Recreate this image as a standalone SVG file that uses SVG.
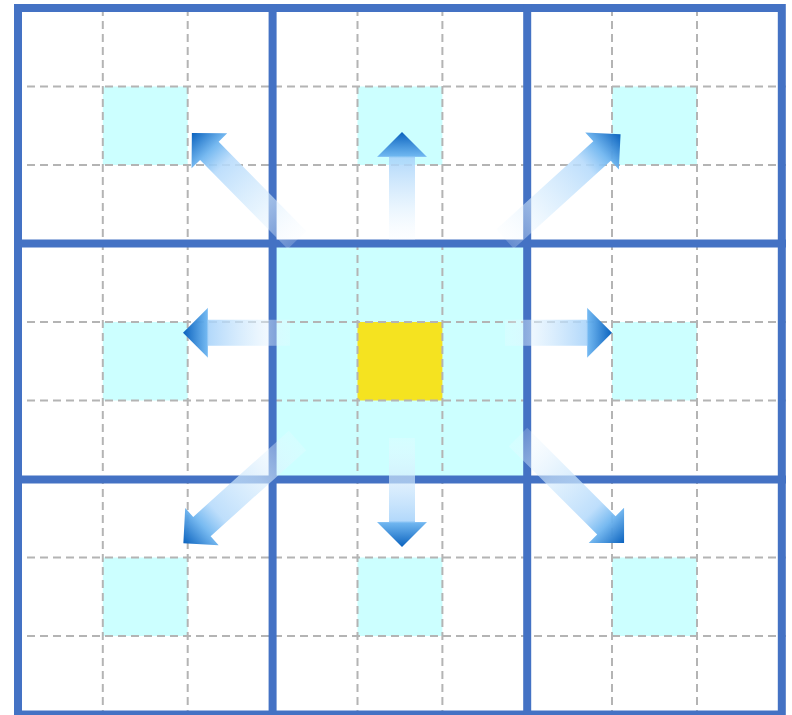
<svg xmlns="http://www.w3.org/2000/svg" width="792" height="715" viewBox="0 0 792 715">
  <style>
    .cell { fill: #CCFFFF; }
    .center { fill: #F5E320; }
    .dash { stroke: #B4B4B4; stroke-width: 2; stroke-dasharray: 8 5; fill: none; }
    .thick { stroke: #4472C4; stroke-width: 8; fill: none; }
    .arrS { fill: url(#gS); }
    .arrL { fill: url(#gL); }
  </style>
  <defs>
    <linearGradient id="gS" x1="0" y1="0" x2="1" y2="0">
      <stop offset="0" stop-color="#f4faff" stop-opacity="0.2"/>
      <stop offset="0.35" stop-color="#d6ecfd" stop-opacity="0.65"/>
      <stop offset="0.76" stop-color="#a8d3fa" stop-opacity="0.88"/>
      <stop offset="0.78" stop-color="#68b2ef" stop-opacity="0.95"/>
      <stop offset="1" stop-color="#0a62be" stop-opacity="1"/>
    </linearGradient>
    <linearGradient id="gL" x1="0" y1="0" x2="1" y2="0">
      <stop offset="0" stop-color="#f4faff" stop-opacity="0.2"/>
      <stop offset="0.35" stop-color="#d6ecfd" stop-opacity="0.65"/>
      <stop offset="0.7" stop-color="#b5dafb" stop-opacity="0.88"/>
      <stop offset="0.83" stop-color="#70b6f0" stop-opacity="0.95"/>
      <stop offset="1" stop-color="#0a62be" stop-opacity="1"/>
    </linearGradient>
  </defs>

  <rect x="0" y="0" width="792" height="715" fill="#ffffff"/>

  <g id="cells">
    <g id="n-top-left"><rect class="cell" x="102.8" y="86.5" width="84.9" height="78.5"/></g>
    <g id="n-top"><rect class="cell" x="357.5" y="86.5" width="84.9" height="78.5"/></g>
    <g id="n-top-right"><rect class="cell" x="612" y="86.5" width="84.9" height="78.5"/></g>
    <g id="n-left"><rect class="cell" x="102.8" y="322" width="84.9" height="78.5"/></g>
    <g id="n-right"><rect class="cell" x="612" y="322" width="84.9" height="78.5"/></g>
    <g id="n-bottom-left"><rect class="cell" x="102.8" y="557.5" width="84.9" height="78.5"/></g>
    <g id="n-bottom"><rect class="cell" x="357.5" y="557.5" width="84.9" height="78.5"/></g>
    <g id="n-bottom-right"><rect class="cell" x="612" y="557.5" width="84.9" height="78.5"/></g>
    <g id="n-block"><rect class="cell" x="272.6" y="243.5" width="254.6" height="235.5"/></g>
    <g id="n-center"><rect class="center" x="357.5" y="322" width="84.9" height="78.5"/></g>
  </g>

  <g id="dashed-grid">
    <line class="dash" x1="102.8" y1="8" x2="102.8" y2="715"/>
    <line class="dash" x1="187.7" y1="8" x2="187.7" y2="715"/>
    <line class="dash" x1="357.5" y1="8" x2="357.5" y2="715"/>
    <line class="dash" x1="442.4" y1="8" x2="442.4" y2="715"/>
    <line class="dash" x1="612" y1="8" x2="612" y2="715"/>
    <line class="dash" x1="697" y1="8" x2="697" y2="715"/>
    <line class="dash" x1="14" y1="86.5" x2="786" y2="86.5"/>
    <line class="dash" x1="14" y1="165" x2="786" y2="165"/>
    <line class="dash" x1="14" y1="322" x2="786" y2="322"/>
    <line class="dash" x1="14" y1="400.5" x2="786" y2="400.5"/>
    <line class="dash" x1="14" y1="557.5" x2="786" y2="557.5"/>
    <line class="dash" x1="14" y1="636" x2="786" y2="636"/>
  </g>

  <g id="thick-grid">
    <rect class="thick" x="18" y="8" width="763.8" height="706.5"/>
    <line class="thick" x1="272.6" y1="4" x2="272.6" y2="718"/>
    <line class="thick" x1="527.2" y1="4" x2="527.2" y2="718"/>
    <line class="thick" x1="14" y1="243.5" x2="786" y2="243.5"/>
    <line class="thick" x1="14" y1="479.5" x2="786" y2="479.5"/>
  </g>

  <g id="connectors">
    <path class="arrS" transform="translate(402,240) rotate(-90)" d="M0,-13 L83,-13 L83,-25 L108,0 L83,25 L83,13 L0,13 Z"/>
    <path class="arrS" transform="translate(402,438) rotate(90)" d="M0,-13 L84,-13 L84,-25 L109,0 L84,25 L84,13 L0,13 Z"/>
    <path class="arrS" transform="translate(290,332.7) rotate(180)" d="M0,-13 L82,-13 L82,-25 L107,0 L82,25 L82,13 L0,13 Z"/>
    <path class="arrS" transform="translate(505,332.7)" d="M0,-13 L82,-13 L82,-25 L107,0 L82,25 L82,13 L0,13 Z"/>
    <path class="arrL" transform="translate(297,240) rotate(-134.5)" d="M0,-13 L125,-13 L125,-25 L150,0 L125,25 L125,13 L0,13 Z"/>
    <path class="arrL" transform="translate(505,239) rotate(-42.2)" d="M0,-13 L131,-13 L131,-25 L156,0 L131,25 L131,13 L0,13 Z"/>
    <path class="arrL" transform="translate(297.5,440.5) rotate(138)" d="M0,-13 L128.6,-13 L128.6,-25 L153.6,0 L128.6,25 L128.6,13 L0,13 Z"/>
    <path class="arrL" transform="translate(518,437) rotate(45)" d="M0,-13 L125,-13 L125,-25 L150,0 L125,25 L125,13 L0,13 Z"/>
  </g>
</svg>
